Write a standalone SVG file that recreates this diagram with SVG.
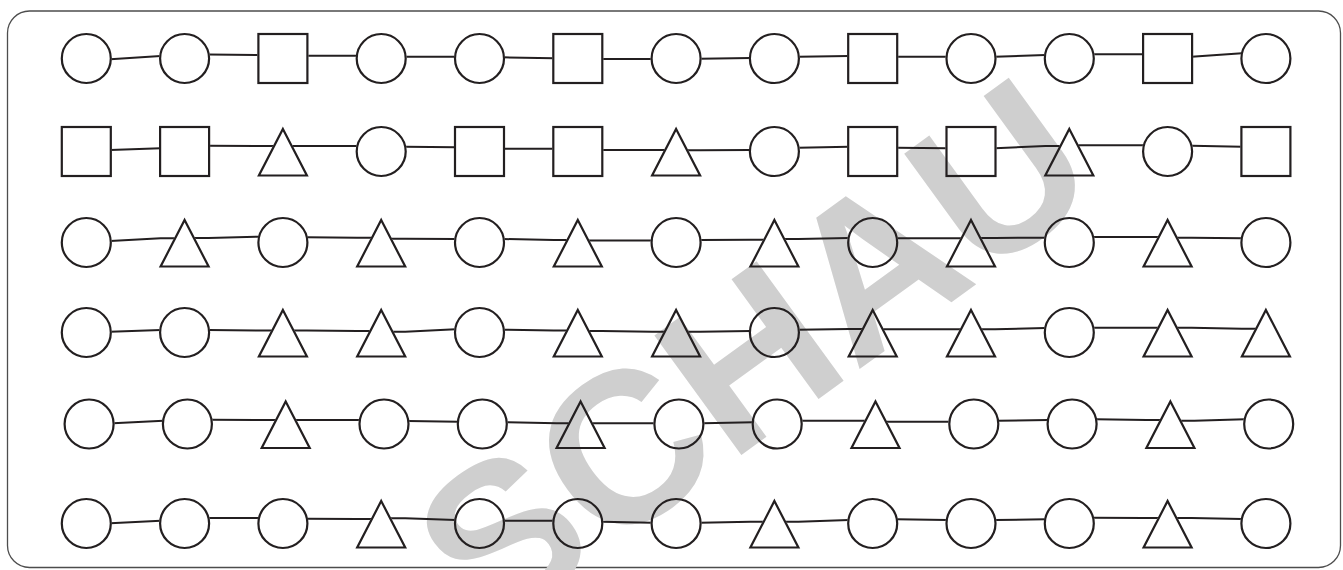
<svg xmlns="http://www.w3.org/2000/svg" xmlns:xlink="http://www.w3.org/1999/xlink" width="1343" height="570" viewBox="0 0 1343 570">
<style>
.frame{fill:none;stroke:#4d4d4d;stroke-width:1.3}
.wm{font-family:"Liberation Sans",Arial,sans-serif;font-weight:bold;fill:#cfcfcf}
.layer{fill:none;stroke:#231f20;stroke-width:2.2}
.conn{fill:none;stroke:#231f20;stroke-width:2;stroke-linejoin:round}
</style>
<defs>
<circle id="C" r="24.5"/>
<rect id="S" x="-24.5" y="-24.5" width="49" height="49"/>
<path id="T" d="M0,-22.5L24,24L-24,24Z"/>
<mask id="m" maskUnits="userSpaceOnUse" x="0" y="0" width="1343" height="570">
<rect width="1343" height="570" fill="white"/>
<use href="#nodes" fill="black" stroke="black" stroke-width="2"/>
</mask>
</defs>
<rect width="1343" height="570" fill="#fff"/>
<rect class="frame" x="7.5" y="11" width="1333" height="556.5" rx="22"/>
<text class="wm" font-size="215" transform="translate(488,639) rotate(-36)">SCHAU</text>
<g id="connectors" class="conn" mask="url(#m)">
<path d="M86.3,59.3H110.3L160.6,56H184.6"/>
<path d="M184.6,54.5H208.6L258.9,55H282.9"/>
<path d="M282.9,55.7H381.2"/>
<path d="M381.2,56.7H479.5"/>
<path d="M479.5,57.3H503.5L553.8,58.3H577.8"/>
<path d="M577.8,59H676.1"/>
<path d="M676.1,58.7H700.1L750.4,58H774.4"/>
<path d="M774.4,56.7H798.4L848.7,56H872.7"/>
<path d="M872.7,56.7H971"/>
<path d="M971,56.7H995L1045.3,55H1069.3"/>
<path d="M1069.3,54.3H1167.6"/>
<path d="M1167.6,56.7H1191.6L1241.9,53.3H1265.9"/>
<path d="M86.3,150H110.3L160.6,148.3H184.6"/>
<path d="M184.6,145.7H208.6L258.9,146H282.9"/>
<path d="M282.9,146H381.2"/>
<path d="M381.2,146.7H405.2L455.5,147.3H479.5"/>
<path d="M479.5,148.7H577.8"/>
<path d="M577.8,150H676.1"/>
<path d="M676.1,150.3H700.1L750.4,150H774.4"/>
<path d="M774.4,147.7H798.4L848.7,146.7H872.7"/>
<path d="M872.7,147.7H896.7L947,148.3H971"/>
<path d="M971,148.3H995L1045.3,146H1069.3"/>
<path d="M1069.3,145.3H1167.6"/>
<path d="M1167.6,145.7H1191.6L1241.9,146.7H1265.9"/>
<path d="M86.3,241H110.3L160.6,238.3H184.6"/>
<path d="M184.6,238H208.6L258.9,236.7H282.9"/>
<path d="M282.9,237.3H306.9L357.2,237.7H381.2"/>
<path d="M381.2,238.7H405.2L455.5,239H479.5"/>
<path d="M479.5,239H503.5L553.8,240H577.8"/>
<path d="M577.8,240.5H676.1"/>
<path d="M676.1,240H700.1L750.4,239.7H774.4"/>
<path d="M774.4,239H798.4L848.7,238H872.7"/>
<path d="M872.7,238.3H971"/>
<path d="M971,238H995L1045.3,237.7H1069.3"/>
<path d="M1069.3,237H1167.6"/>
<path d="M1167.6,237.7H1191.6L1241.9,238.3H1265.9"/>
<path d="M86.3,331.7H110.3L160.6,330H184.6"/>
<path d="M184.6,330H208.6L258.9,330.5H282.9"/>
<path d="M282.9,330.5H306.9L357.2,331H381.2"/>
<path d="M381.2,331.7H405.2L455.5,329.3H479.5"/>
<path d="M479.5,329.7H503.5L553.8,330.5H577.8"/>
<path d="M577.8,331H601.8L652.1,331.7H676.1"/>
<path d="M676.1,331.7H700.1L750.4,331H774.4"/>
<path d="M774.4,329.7H798.4L848.7,329H872.7"/>
<path d="M872.7,329.3H971"/>
<path d="M971,329.3H995L1045.3,328H1069.3"/>
<path d="M1069.3,327.7H1167.6"/>
<path d="M1167.6,327.7H1191.6L1241.9,328.7H1265.9"/>
<path d="M89.1,423.3H113.1L163.4,420.7H187.4"/>
<path d="M187.4,419.7H211.4L261.7,420H285.7"/>
<path d="M285.7,420H384"/>
<path d="M384,421H408L458.3,421.7H482.3"/>
<path d="M482.3,422.3H506.3L556.6,423.3H580.6"/>
<path d="M580.6,423.3H678.9"/>
<path d="M678.9,423.3H702.9L753.2,422.3H777.2"/>
<path d="M777.2,420.7H875.5"/>
<path d="M875.5,421.7H973.8"/>
<path d="M973.8,420.7H997.8L1048.1,420H1072.1"/>
<path d="M1072.1,419.3H1096.1L1146.4,420H1170.4"/>
<path d="M1170.4,420.7H1194.4L1244.7,419.3H1268.7"/>
<path d="M86.3,523.3H110.3L160.6,520.7H184.6"/>
<path d="M184.6,518H282.9"/>
<path d="M282.9,518.7H306.9L357.2,519H381.2"/>
<path d="M381.2,518.3H405.2L455.5,520H479.5"/>
<path d="M479.5,520.7H577.8"/>
<path d="M577.8,521.7H601.8L652.1,522.7H676.1"/>
<path d="M676.1,522.7H700.1L750.4,521.7H774.4"/>
<path d="M774.4,521.7H798.4L848.7,520H872.7"/>
<path d="M872.7,519.3H896.7L947,520H971"/>
<path d="M971,520H995L1045.3,519.3H1069.3"/>
<path d="M1069.3,517.7H1093.3L1143.6,518H1167.6"/>
<path d="M1167.6,518H1191.6L1241.9,519H1265.9"/>
</g>
<g class="layer">
<g id="nodes">
<g id="r1c1"><use href="#C" x="86.3" y="58.5"/></g>
<g id="r1c2"><use href="#C" x="184.6" y="58.5"/></g>
<g id="r1c3"><use href="#S" x="282.9" y="58.5"/></g>
<g id="r1c4"><use href="#C" x="381.2" y="58.5"/></g>
<g id="r1c5"><use href="#C" x="479.5" y="58.5"/></g>
<g id="r1c6"><use href="#S" x="577.8" y="58.5"/></g>
<g id="r1c7"><use href="#C" x="676.1" y="58.5"/></g>
<g id="r1c8"><use href="#C" x="774.4" y="58.5"/></g>
<g id="r1c9"><use href="#S" x="872.7" y="58.5"/></g>
<g id="r1c10"><use href="#C" x="971" y="58.5"/></g>
<g id="r1c11"><use href="#C" x="1069.3" y="58.5"/></g>
<g id="r1c12"><use href="#S" x="1167.6" y="58.5"/></g>
<g id="r1c13"><use href="#C" x="1265.9" y="58.5"/></g>
<g id="r2c1"><use href="#S" x="86.3" y="151.5"/></g>
<g id="r2c2"><use href="#S" x="184.6" y="151.5"/></g>
<g id="r2c3"><use href="#T" x="282.9" y="151.5"/></g>
<g id="r2c4"><use href="#C" x="381.2" y="151.5"/></g>
<g id="r2c5"><use href="#S" x="479.5" y="151.5"/></g>
<g id="r2c6"><use href="#S" x="577.8" y="151.5"/></g>
<g id="r2c7"><use href="#T" x="676.1" y="151.5"/></g>
<g id="r2c8"><use href="#C" x="774.4" y="151.5"/></g>
<g id="r2c9"><use href="#S" x="872.7" y="151.5"/></g>
<g id="r2c10"><use href="#S" x="971" y="151.5"/></g>
<g id="r2c11"><use href="#T" x="1069.3" y="151.5"/></g>
<g id="r2c12"><use href="#C" x="1167.6" y="151.5"/></g>
<g id="r2c13"><use href="#S" x="1265.9" y="151.5"/></g>
<g id="r3c1"><use href="#C" x="86.3" y="242.5"/></g>
<g id="r3c2"><use href="#T" x="184.6" y="242.5"/></g>
<g id="r3c3"><use href="#C" x="282.9" y="242.5"/></g>
<g id="r3c4"><use href="#T" x="381.2" y="242.5"/></g>
<g id="r3c5"><use href="#C" x="479.5" y="242.5"/></g>
<g id="r3c6"><use href="#T" x="577.8" y="242.5"/></g>
<g id="r3c7"><use href="#C" x="676.1" y="242.5"/></g>
<g id="r3c8"><use href="#T" x="774.4" y="242.5"/></g>
<g id="r3c9"><use href="#C" x="872.7" y="242.5"/></g>
<g id="r3c10"><use href="#T" x="971" y="242.5"/></g>
<g id="r3c11"><use href="#C" x="1069.3" y="242.5"/></g>
<g id="r3c12"><use href="#T" x="1167.6" y="242.5"/></g>
<g id="r3c13"><use href="#C" x="1265.9" y="242.5"/></g>
<g id="r4c1"><use href="#C" x="86.3" y="332.5"/></g>
<g id="r4c2"><use href="#C" x="184.6" y="332.5"/></g>
<g id="r4c3"><use href="#T" x="282.9" y="332.5"/></g>
<g id="r4c4"><use href="#T" x="381.2" y="332.5"/></g>
<g id="r4c5"><use href="#C" x="479.5" y="332.5"/></g>
<g id="r4c6"><use href="#T" x="577.8" y="332.5"/></g>
<g id="r4c7"><use href="#T" x="676.1" y="332.5"/></g>
<g id="r4c8"><use href="#C" x="774.4" y="332.5"/></g>
<g id="r4c9"><use href="#T" x="872.7" y="332.5"/></g>
<g id="r4c10"><use href="#T" x="971" y="332.5"/></g>
<g id="r4c11"><use href="#C" x="1069.3" y="332.5"/></g>
<g id="r4c12"><use href="#T" x="1167.6" y="332.5"/></g>
<g id="r4c13"><use href="#T" x="1265.9" y="332.5"/></g>
<g id="r5c1"><use href="#C" x="89.1" y="424"/></g>
<g id="r5c2"><use href="#C" x="187.4" y="424"/></g>
<g id="r5c3"><use href="#T" x="285.7" y="424"/></g>
<g id="r5c4"><use href="#C" x="384" y="424"/></g>
<g id="r5c5"><use href="#C" x="482.3" y="424"/></g>
<g id="r5c6"><use href="#T" x="580.6" y="424"/></g>
<g id="r5c7"><use href="#C" x="678.9" y="424"/></g>
<g id="r5c8"><use href="#C" x="777.2" y="424"/></g>
<g id="r5c9"><use href="#T" x="875.5" y="424"/></g>
<g id="r5c10"><use href="#C" x="973.8" y="424"/></g>
<g id="r5c11"><use href="#C" x="1072.1" y="424"/></g>
<g id="r5c12"><use href="#T" x="1170.4" y="424"/></g>
<g id="r5c13"><use href="#C" x="1268.7" y="424"/></g>
<g id="r6c1"><use href="#C" x="86.3" y="523.5"/></g>
<g id="r6c2"><use href="#C" x="184.6" y="523.5"/></g>
<g id="r6c3"><use href="#C" x="282.9" y="523.5"/></g>
<g id="r6c4"><use href="#T" x="381.2" y="523.5"/></g>
<g id="r6c5"><use href="#C" x="479.5" y="523.5"/></g>
<g id="r6c6"><use href="#C" x="577.8" y="523.5"/></g>
<g id="r6c7"><use href="#C" x="676.1" y="523.5"/></g>
<g id="r6c8"><use href="#T" x="774.4" y="523.5"/></g>
<g id="r6c9"><use href="#C" x="872.7" y="523.5"/></g>
<g id="r6c10"><use href="#C" x="971" y="523.5"/></g>
<g id="r6c11"><use href="#C" x="1069.3" y="523.5"/></g>
<g id="r6c12"><use href="#T" x="1167.6" y="523.5"/></g>
<g id="r6c13"><use href="#C" x="1265.9" y="523.5"/></g>
</g>
</g>
</svg>
